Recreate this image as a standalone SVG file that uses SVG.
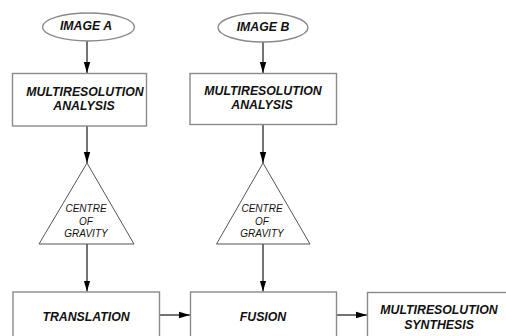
<svg xmlns="http://www.w3.org/2000/svg" width="506" height="336" viewBox="0 0 506 336">
<style>
.shape{fill:#fff;stroke:#8a8a8a;stroke-width:1.4}
.tri{fill:#fff;stroke:#555;stroke-width:1}
.conn{stroke:#000;stroke-width:1.1;fill:none}
.lbl{font-family:"Liberation Sans",Arial,sans-serif;font-style:italic;font-weight:bold;font-size:12.3px;fill:#111;text-anchor:middle}
.small{font-family:"Liberation Sans",Arial,sans-serif;font-style:italic;font-size:10px;fill:#111;text-anchor:middle}
</style>
<defs>
<marker id="arr" markerUnits="userSpaceOnUse" markerWidth="12" markerHeight="8" viewBox="0 0 12 8" refX="11" refY="4" orient="auto">
<path d="M0,0.8 L11,4 L0,7.2 Z" fill="#000"/>
</marker>
</defs>
<rect width="506" height="336" fill="#fff"/>
<g id="connectors">
<line class="conn" x1="87" y1="41" x2="87" y2="73" marker-end="url(#arr)"/>
<line class="conn" x1="263" y1="42" x2="263" y2="73" marker-end="url(#arr)"/>
<line class="conn" x1="87" y1="126" x2="87" y2="163" marker-end="url(#arr)"/>
<line class="conn" x1="263" y1="124.5" x2="263" y2="163" marker-end="url(#arr)"/>
<line class="conn" x1="87" y1="244" x2="87" y2="291.5" marker-end="url(#arr)"/>
<line class="conn" x1="263" y1="244" x2="263" y2="291.5" marker-end="url(#arr)"/>
<line class="conn" x1="159.5" y1="315" x2="190" y2="315" marker-end="url(#arr)"/>
<line class="conn" x1="336.5" y1="315" x2="367" y2="315" marker-end="url(#arr)"/>
</g>
<g id="imageA">
<ellipse class="shape" cx="88.5" cy="27" rx="46" ry="14"/>
<text class="lbl" x="86" y="30">IMAGE A</text>
</g>
<g id="imageB">
<ellipse class="shape" cx="263" cy="27.5" rx="45" ry="14.5"/>
<text class="lbl" x="263" y="30.5">IMAGE B</text>
</g>
<g id="analysisA">
<rect class="shape" x="12.5" y="73.5" width="134" height="52.5"/>
<text class="lbl" x="85" y="95.5">MULTIRESOLUTION</text>
<text class="lbl" x="84" y="110">ANALYSIS</text>
</g>
<g id="analysisB">
<rect class="shape" x="190" y="73.5" width="146.5" height="51"/>
<text class="lbl" x="263" y="95">MULTIRESOLUTION</text>
<text class="lbl" x="262" y="109.3">ANALYSIS</text>
</g>
<g id="cogA">
<polygon class="tri" points="87,163 39,244 134,244"/>
<text class="small" x="86" y="212">CENTRE</text>
<text class="small" x="86" y="224.5">OF</text>
<text class="small" x="86" y="237">GRAVITY</text>
</g>
<g id="cogB">
<polygon class="tri" points="263,163 216.5,244 310,244"/>
<text class="small" x="262" y="212">CENTRE</text>
<text class="small" x="262" y="224.5">OF</text>
<text class="small" x="262" y="237">GRAVITY</text>
</g>
<g id="translation">
<rect class="shape" x="13" y="292" width="146.5" height="60"/>
<text class="lbl" x="86" y="321">TRANSLATION</text>
</g>
<g id="fusion">
<rect class="shape" x="190.5" y="292" width="146" height="60"/>
<text class="lbl" x="263" y="321">FUSION</text>
</g>
<g id="synthesis">
<rect class="shape" x="367.5" y="292.5" width="146" height="60"/>
<text class="lbl" x="439" y="314">MULTIRESOLUTION</text>
<text class="lbl" x="439" y="329">SYNTHESIS</text>
</g>
</svg>
